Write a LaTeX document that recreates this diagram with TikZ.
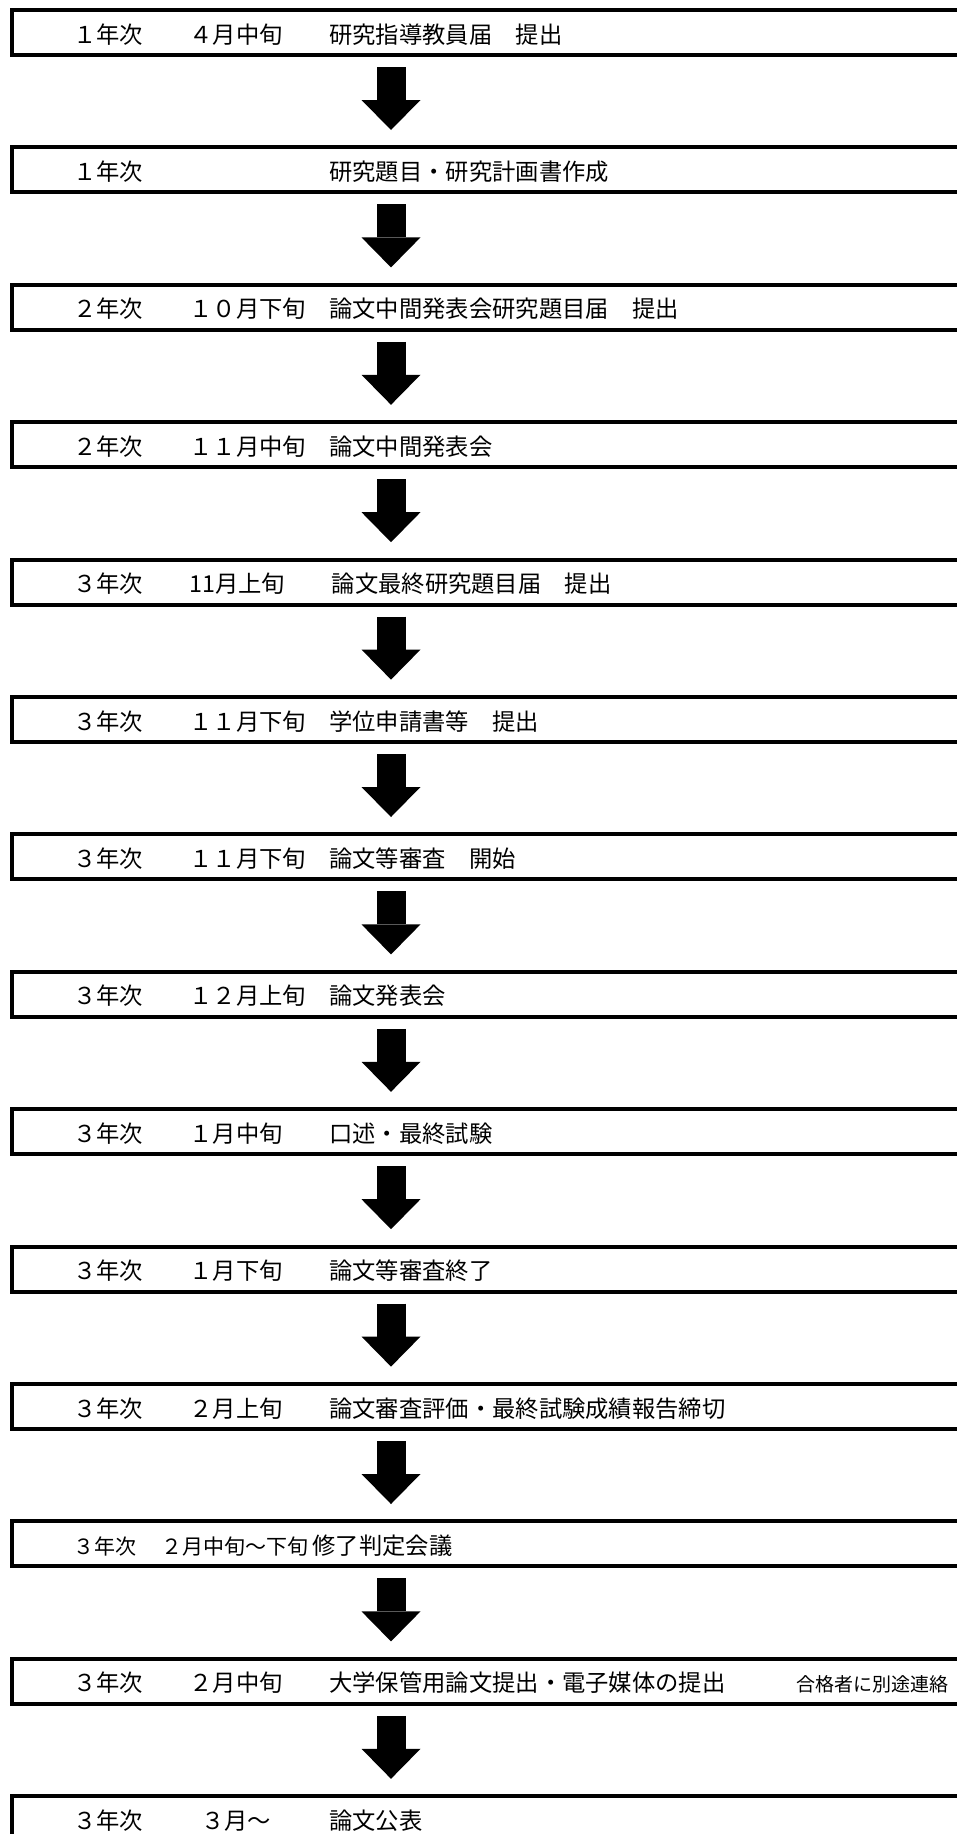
\documentclass[tikz,border=0pt]{standalone}
\usepackage{fontspec}
\setmainfont{Noto Sans CJK JP}
\usetikzlibrary{arrows.meta}
\begin{document}
\begin{tikzpicture}[x=1pt,y=-1pt,
    stage/.style={draw, line width=4pt, anchor=west, minimum height=45pt,
      text width=1040pt, align=left, inner xsep=61pt, inner ysep=0pt,
      text height=22pt, text depth=1pt, font=\fontsize{23.3}{28}\selectfont},
    flow/.style={line width=29pt, -{Triangle[width=59pt,length=30pt,line width=0pt]},
      shorten <=10pt, shorten >=15.4pt}]
  \useasboundingbox (0,0) rectangle (957,1834);
  \clip (0,0) rectangle (957,1834);
  \coordinate (axis) at (391,0);
  \node[stage] (b1) at (10,32.5) {１年次　　４月中旬　　研究指導教員届　提出};
  \node[stage] (b2) at (10,169.9) {１年次　　　　　　　　研究題目・研究計画書作成};
  \node[stage] (b3) at (10,307.3) {２年次　　１０月下旬　論文中間発表会研究題目届　提出};
  \node[stage] (b4) at (10,444.7) {２年次　　１１月中旬　論文中間発表会};
  \node[stage] (b5) at (10,582.1) {３年次　　11月上旬　　論文最終研究題目届　提出};
  \node[stage] (b6) at (10,719.5) {３年次　　１１月下旬　学位申請書等　提出};
  \node[stage] (b7) at (10,856.9) {３年次　　１１月下旬　論文等審査　開始};
  \node[stage] (b8) at (10,994.3) {３年次　　１２月上旬　論文発表会};
  \node[stage] (b9) at (10,1131.7) {３年次　　１月中旬　　口述・最終試験};
  \node[stage] (b10) at (10,1269.1) {３年次　　１月下旬　　論文等審査終了};
  \node[stage] (b11) at (10,1406.5) {３年次　　２月上旬　　論文審査評価・最終試験成績報告締切};
  \node[stage] (b12) at (10,1543.9) {{\fontsize{21}{25}\selectfont ３年次\hspace{25.5pt}２月中旬～下旬}\hspace{4pt}修了判定会議};
  \node[stage] (b13) at (10,1681.3) {３年次　　２月中旬　　大学保管用論文提出・電子媒体の提出\hspace{71.6pt}{\fontsize{19}{23}\selectfont 合格者に別途連絡}};
  \node[stage] (b14) at (10,1818.7) {３年次　　\enspace ３月～　　\enspace 論文公表};
  \draw[flow] (b1.south -| axis) -- (b2.north -| axis);
  \draw[flow] (b2.south -| axis) -- (b3.north -| axis);
  \draw[flow] (b3.south -| axis) -- (b4.north -| axis);
  \draw[flow] (b4.south -| axis) -- (b5.north -| axis);
  \draw[flow] (b5.south -| axis) -- (b6.north -| axis);
  \draw[flow] (b6.south -| axis) -- (b7.north -| axis);
  \draw[flow] (b7.south -| axis) -- (b8.north -| axis);
  \draw[flow] (b8.south -| axis) -- (b9.north -| axis);
  \draw[flow] (b9.south -| axis) -- (b10.north -| axis);
  \draw[flow] (b10.south -| axis) -- (b11.north -| axis);
  \draw[flow] (b11.south -| axis) -- (b12.north -| axis);
  \draw[flow] (b12.south -| axis) -- (b13.north -| axis);
  \draw[flow] (b13.south -| axis) -- (b14.north -| axis);
\end{tikzpicture}
\end{document}
